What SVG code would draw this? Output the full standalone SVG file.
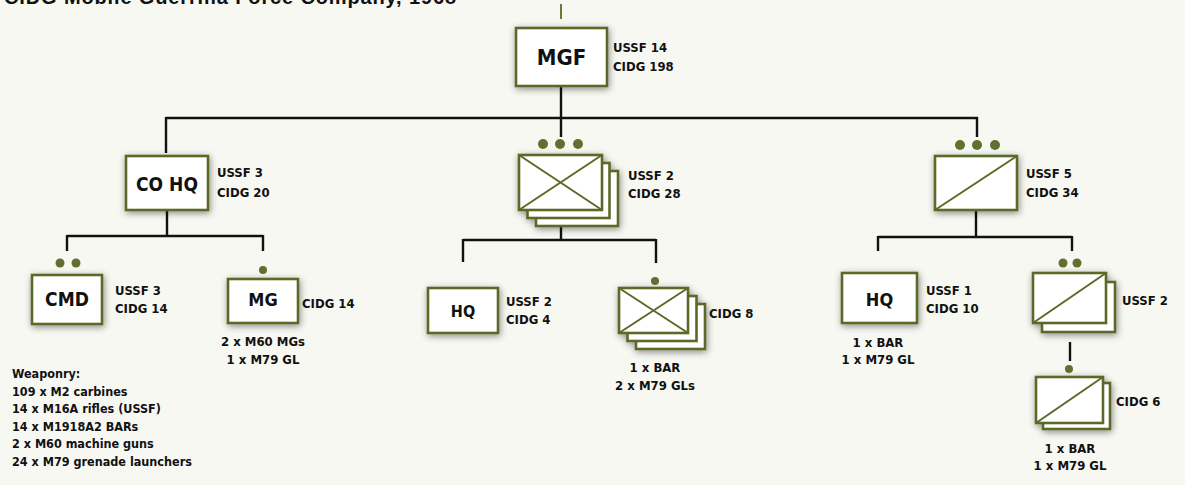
<svg xmlns="http://www.w3.org/2000/svg" width="1185" height="485" viewBox="0 0 1185 485">
<defs>
<style>
.t{font-family:'Liberation Sans Narrow','DejaVu Sans Condensed','Liberation Sans',sans-serif;font-weight:bold;font-size:13px;fill:#111}
.c{text-anchor:middle}
.w{font-size:12.5px}
.box{fill:#fff;stroke:#5a6a28;stroke-width:2.6}
.dot{fill:#5f7030}
.ln{stroke:#111;stroke-width:2.4;fill:none}
.sl{stroke:#5a6a28;stroke-width:2;fill:none}
</style>
<filter id="sh" x="-30%" y="-30%" width="160%" height="160%">
<feGaussianBlur in="SourceAlpha" stdDeviation="3.5"/>
<feOffset dx="1" dy="2"/>
<feComponentTransfer><feFuncA type="linear" slope="0.45"/></feComponentTransfer>
<feMerge><feMergeNode/><feMergeNode in="SourceGraphic"/></feMerge>
</filter>
</defs>
<rect width="1185" height="485" fill="#f8f8f3"/>
<text x="4" y="4" font-family="'Liberation Sans',sans-serif" font-weight="bold" font-size="20" fill="#111" textLength="452">CIDG Mobile Guerrilla Force Company, 1968</text>

<g id="connectors">
<line x1="561" y1="4" x2="561" y2="19" stroke="#6b7a3a" stroke-width="2"/>
<path class="ln" d="M561 86V118M166 118H978M166 117V153M561 117V137M977 117V137"/>
<path class="ln" d="M167 210V236M67 236H263M67 235V251M263 235V251"/>
<path class="ln" d="M561 226V240M463 240H656M463 239V262M656 239V263"/>
<path class="ln" d="M976 210V237M878 237H1072M878 236V251M1072 236V251"/>
<path class="ln" d="M1070 342V361"/>
</g>

<g id="mgf">
<rect class="box" x="516" y="28" width="91" height="58" stroke-width="3" filter="url(#sh)"/>
<text class="t c" x="561.5" y="65" style="font-size:22px">MGF</text>
<text class="t" x="613" y="52">USSF 14</text>
<text class="t" x="613" y="71">CIDG 198</text>
</g>

<g id="cohq">
<rect class="box" x="126" y="156" width="82" height="54" filter="url(#sh)"/>
<text class="t c" x="167" y="191" style="font-size:19px">CO HQ</text>
<text class="t" x="217" y="177">USSF 3</text>
<text class="t" x="217" y="197">CIDG 20</text>
</g>

<g id="platoon-mid">
<g filter="url(#sh)">
<rect class="box" x="536" y="171" width="82" height="55"/>
<rect class="box" x="527.5" y="163" width="82" height="55"/>
<rect class="box" x="519" y="155" width="83" height="55"/>
</g>
<path class="sl" d="M519 155L602 210M602 155L519 210"/>
<circle class="dot" cx="543" cy="144" r="5"/>
<circle class="dot" cx="560" cy="144" r="5"/>
<circle class="dot" cx="578" cy="144" r="5"/>
<text class="t" x="628" y="180">USSF 2</text>
<text class="t" x="628" y="198">CIDG 28</text>
</g>

<g id="platoon-right">
<rect class="box" x="935" y="156" width="82" height="54" filter="url(#sh)"/>
<path class="sl" d="M935 210L1017 156"/>
<circle class="dot" cx="960" cy="145" r="5"/>
<circle class="dot" cx="977" cy="145" r="5"/>
<circle class="dot" cx="995" cy="145" r="5"/>
<text class="t" x="1026" y="178">USSF 5</text>
<text class="t" x="1026" y="197">CIDG 34</text>
</g>

<g id="cmd">
<rect class="box" x="32" y="275" width="70" height="49" filter="url(#sh)"/>
<text class="t c" x="67" y="306" style="font-size:19px">CMD</text>
<circle class="dot" cx="60" cy="263" r="4.5"/>
<circle class="dot" cx="76" cy="263" r="4.5"/>
<text class="t" x="115" y="295">USSF 3</text>
<text class="t" x="115" y="313">CIDG 14</text>
</g>

<g id="mg">
<rect class="box" x="228" y="279" width="70" height="44" filter="url(#sh)"/>
<text class="t c" x="263" y="306" style="font-size:18px">MG</text>
<circle class="dot" cx="263" cy="270" r="4"/>
<text class="t" x="302" y="308">CIDG 14</text>
<text class="t c" x="263" y="346">2 x M60 MGs</text>
<text class="t c" x="263" y="364">1 x M79 GL</text>
</g>

<g id="hq-mid">
<rect class="box" x="428" y="288" width="70" height="45" filter="url(#sh)"/>
<text class="t c" x="463" y="317" style="font-size:16px">HQ</text>
<text class="t" x="506" y="306">USSF 2</text>
<text class="t" x="506" y="324">CIDG 4</text>
</g>

<g id="squad-mid">
<g filter="url(#sh)">
<rect class="box" x="636" y="304" width="69" height="45"/>
<rect class="box" x="627.5" y="296" width="69" height="45"/>
<rect class="box" x="619" y="288" width="69" height="45"/>
</g>
<path class="sl" d="M619 288L688 333M688 288L619 333"/>
<circle class="dot" cx="655" cy="281" r="4"/>
<text class="t" x="709" y="318">CIDG 8</text>
<text class="t c" x="655" y="372">1 x BAR</text>
<text class="t c" x="655" y="390">2 x M79 GLs</text>
</g>

<g id="hq-right">
<rect class="box" x="842" y="273" width="75" height="50" filter="url(#sh)"/>
<text class="t c" x="879.5" y="306" style="font-size:18px">HQ</text>
<text class="t" x="926" y="295">USSF 1</text>
<text class="t" x="926" y="313">CIDG 10</text>
<text class="t c" x="878" y="347">1 x BAR</text>
<text class="t c" x="878" y="364">1 x M79 GL</text>
</g>

<g id="squad-right">
<g filter="url(#sh)">
<rect class="box" x="1042" y="282" width="73" height="50"/>
<rect class="box" x="1033" y="273" width="73" height="50"/>
</g>
<path class="sl" d="M1033 323L1106 273"/>
<circle class="dot" cx="1063" cy="263" r="4.5"/>
<circle class="dot" cx="1077" cy="263" r="4.5"/>
<text class="t" x="1122" y="305">USSF 2</text>
</g>

<g id="team-right">
<g filter="url(#sh)">
<rect class="box" x="1043" y="383" width="67" height="46"/>
<rect class="box" x="1036" y="377" width="67" height="46"/>
</g>
<path class="sl" d="M1036 423L1103 377"/>
<circle class="dot" cx="1069" cy="369" r="4"/>
<text class="t" x="1116" y="406">CIDG 6</text>
<text class="t c" x="1070" y="453">1 x BAR</text>
<text class="t c" x="1070" y="470">1 x M79 GL</text>
</g>

<g id="weaponry">
<text class="t w" x="12" y="378">Weaponry:</text>
<text class="t w" x="12" y="396">109 x M2 carbines</text>
<text class="t w" x="12" y="413">14 x M16A rifles (USSF)</text>
<text class="t w" x="12" y="431">14 x M1918A2 BARs</text>
<text class="t w" x="12" y="448">2 x M60 machine guns</text>
<text class="t w" x="12" y="466">24 x M79 grenade launchers</text>
</g>
</svg>
